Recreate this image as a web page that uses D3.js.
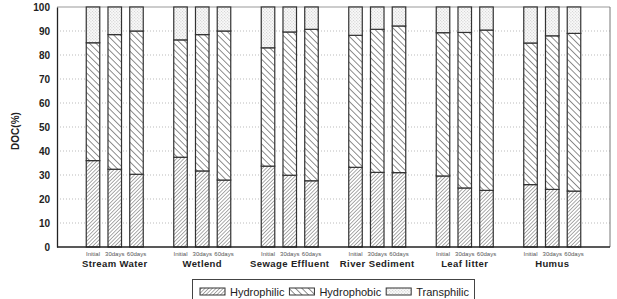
<!DOCTYPE html>
<html>
<head>
<meta charset="utf-8">
<script src="https://cdn.jsdelivr.net/npm/d3@7"></script>
<style>
  body { margin: 0; background: #fff; }
  text { font-family: "Liberation Sans", Arial, sans-serif; }
</style>
</head>
<body>
<div id="chart"></div>
<script>
// sources and sampling times
var groups = ["Stream Water", "Wetlend", "Sewage Effluent", "River Sediment", "Leaf litter", "Humus"];
var periods = ["Initial", "30days", "60days"];
var seriesNames = ["Hydrophilic", "Hydrophobic", "Transphilic"];

// percent of DOC, one inner array per source (Initial, 30days, 60days)
var hydrophilic = [[36, 32.4, 30.3], [37.4, 31.7, 27.9], [33.7, 29.9, 27.6], [33.2, 31.1, 31], [29.6, 24.6, 23.6], [26, 24, 23.3]];
var hydrophobic = [[49.1, 56.1, 59.7], [48.9, 56.8, 62.1], [49.3, 59.7, 63.1], [55, 59.6, 61.1], [59.7, 64.8, 66.8], [59, 64, 65.7]];
var transphilic = [[14.9, 11.5, 10], [13.7, 11.5, 10], [17, 10.4, 9.3], [11.8, 9.3, 7.9], [10.7, 10.6, 9.6], [15, 12, 11]];
var yTicks = [0, 10, 20, 30, 40, 50, 60, 70, 80, 90, 100];

var width = 617, height = 299;
var plotLeft = 57, plotRight = 610, plotTop = 7, plotBottom = 247;

var svg = d3.select('#chart').append('svg')
  .attr('width', width).attr('height', height);

// hatch patterns
var defs = svg.append('defs');
var p1 = defs.append('pattern').attr('id', 'pHydrophilic')
  .attr('patternUnits', 'userSpaceOnUse').attr('width', 2.6).attr('height', 2.6)
  .attr('patternTransform', 'rotate(45)');
p1.append('rect').attr('width', 2.6).attr('height', 2.6).attr('fill', '#fff');
p1.append('line').attr('x1', 0).attr('y1', 0).attr('x2', 0).attr('y2', 2.6)
  .attr('stroke', '#555').attr('stroke-width', 1);
var p2 = defs.append('pattern').attr('id', 'pHydrophobic')
  .attr('patternUnits', 'userSpaceOnUse').attr('width', 4.6).attr('height', 4.6)
  .attr('patternTransform', 'rotate(-45)');
p2.append('rect').attr('width', 4.6).attr('height', 4.6).attr('fill', '#fff');
p2.append('line').attr('x1', 0).attr('y1', 0).attr('x2', 0).attr('y2', 4.6)
  .attr('stroke', '#333').attr('stroke-width', 1.1);
var p3 = defs.append('pattern').attr('id', 'pTransphilic')
  .attr('patternUnits', 'userSpaceOnUse').attr('width', 3).attr('height', 3);
p3.append('rect').attr('width', 3).attr('height', 3).attr('fill', '#f7f7f7');
p3.append('rect').attr('x', 0.5).attr('y', 0.5).attr('width', 0.8).attr('height', 0.8).attr('fill', '#b0b0b0');
p3.append('rect').attr('x', 2).attr('y', 2).attr('width', 0.8).attr('height', 0.8).attr('fill', '#c4c4c4');
var fills = { Hydrophilic: 'url(#pHydrophilic)', Hydrophobic: 'url(#pHydrophobic)', Transphilic: 'url(#pTransphilic)' };

// scales
var y = d3.scaleLinear().domain([0, 100]).range([plotBottom, plotTop]);
var x0 = d3.scalePoint().domain(groups).range([plotLeft, plotRight]).padding(0.66);
var x1 = d3.scaleBand().domain(periods).range([-28.5, 28.5]).paddingInner(0.378);

// grid
svg.append('g').selectAll('line').data(yTicks.filter(function (d) { return d > 0 && d < 100; }))
  .enter().append('line')
  .attr('x1', plotLeft).attr('x2', plotRight)
  .attr('y1', function (d) { return y(d); }).attr('y2', function (d) { return y(d); })
  .attr('stroke', '#aaa').attr('stroke-width', 0.8).attr('stroke-dasharray', '1,2');

// frame
svg.append('line').attr('x1', plotLeft).attr('x2', plotRight).attr('y1', plotTop).attr('y2', plotTop)
  .attr('stroke', '#999').attr('stroke-width', 1);
svg.append('line').attr('x1', plotRight).attr('x2', plotRight).attr('y1', plotTop).attr('y2', plotBottom)
  .attr('stroke', '#777').attr('stroke-width', 1);

// stacked rows
var rows = [];
groups.forEach(function (g, i) {
  periods.forEach(function (p, j) {
    rows.push({ group: g, period: p, Hydrophilic: hydrophilic[i][j], Hydrophobic: hydrophobic[i][j], Transphilic: transphilic[i][j] });
  });
});
var stacked = d3.stack().keys(seriesNames)(rows);

var layer = svg.append('g').selectAll('g').data(stacked).enter().append('g')
  .attr('fill', function (d) { return fills[d.key]; });
layer.selectAll('rect').data(function (d) { return d; }).enter().append('rect')
  .attr('x', function (d) { return x0(d.data.group) + x1(d.data.period); })
  .attr('width', x1.bandwidth())
  .attr('y', function (d) { return y(d[1]); })
  .attr('height', function (d) { return y(d[0]) - y(d[1]); })
  .attr('stroke', '#333').attr('stroke-width', 1.2);

// axes lines
var yAxis = d3.axisLeft(y).tickValues(yTicks).tickSize(0).tickPadding(7);
var ya = svg.append('g').attr('transform', 'translate(' + plotLeft + ',0)').call(yAxis);
ya.select('.domain').attr('stroke', '#222').attr('stroke-width', 1.3);
ya.selectAll('text').attr('font-size', 10).attr('font-weight', 'bold').attr('fill', '#222')
  .attr('font-family', '"Liberation Sans", Arial, sans-serif');
svg.append('line').attr('x1', plotLeft).attr('x2', plotRight).attr('y1', plotBottom).attr('y2', plotBottom)
  .attr('stroke', '#222').attr('stroke-width', 1.3);

// period labels
svg.append('g').selectAll('text').data(rows).enter().append('text')
  .attr('x', function (d) { return x0(d.group) + x1(d.period) + x1.bandwidth() / 2; })
  .attr('y', 255.5)
  .attr('text-anchor', 'middle').attr('font-size', 6).attr('fill', '#555')
  .text(function (d) { return d.period; });

// group labels
svg.append('g').selectAll('text').data(groups).enter().append('text')
  .attr('x', function (d) { return x0(d); })
  .attr('y', 267)
  .attr('text-anchor', 'middle').attr('font-size', 9.5).attr('font-weight', 'bold')
  .attr('letter-spacing', 0.4).attr('fill', '#222')
  .text(function (d) { return d; });

// y label
svg.append('text')
  .attr('transform', 'translate(19,131) rotate(-90)')
  .attr('text-anchor', 'middle').attr('font-size', 10).attr('font-weight', 'bold').attr('fill', '#222')
  .text('DOC(%)');

// legend
var lg = svg.append('g');
lg.append('rect').attr('x', 192.5).attr('y', 279.5).attr('width', 282).attr('height', 30)
  .attr('fill', '#fff').attr('stroke', '#444').attr('stroke-width', 1);
var lx = 200;
seriesNames.forEach(function (s) {
  lg.append('rect').attr('x', lx).attr('y', 288).attr('width', 25).attr('height', 7)
    .attr('fill', fills[s]).attr('stroke', '#333').attr('stroke-width', 1);
  var t = lg.append('text').attr('x', lx + 30).attr('y', 296).attr('font-size', 11).attr('fill', '#222').text(s);
  lx += 30 + t.node().getComputedTextLength() + 5;
});
</script>
</body>
</html>
